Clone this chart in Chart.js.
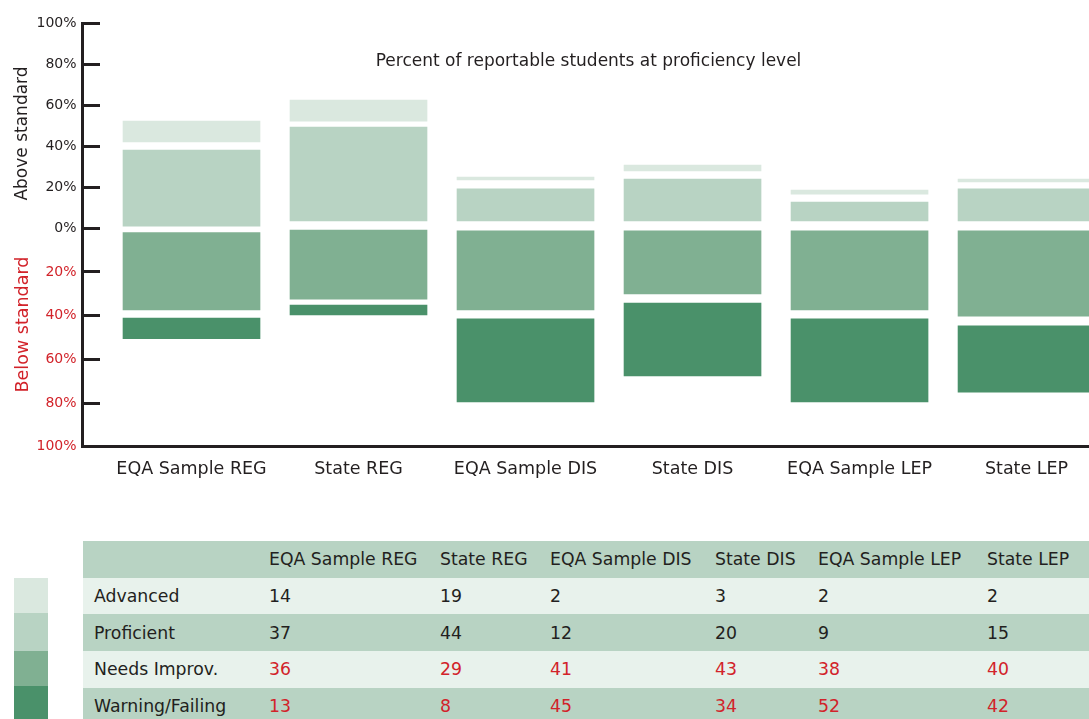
<!DOCTYPE html>
<html>
<head>
<meta charset="utf-8">
<script src="https://cdn.jsdelivr.net/npm/chart.js@4.4.1/dist/chart.umd.min.js"></script>
<style>
body{margin:0;width:1089px;height:719px;overflow:hidden;background:#fff;font-family:"DejaVu Sans",sans-serif;color:#231f20;position:relative}
#wrap{position:absolute;left:0;top:0;width:1089px;height:500px}
#tbl{position:absolute;left:83px;top:541px;border-collapse:collapse;table-layout:fixed;width:1013px;font-size:17.3px}
#tbl tr{height:36.7px}
#tbl td{padding:0 0 0 11px;vertical-align:middle;white-space:nowrap;overflow:hidden}
.sw{position:absolute;left:14px;width:34px}
</style>
</head>
<body>
<div id="wrap"><canvas id="chart"></canvas></div>
<table id="tbl">
<colgroup><col style="width:175px"><col style="width:171px"><col style="width:110px"><col style="width:165px"><col style="width:103px"><col style="width:169px"><col style="width:120px"></colgroup>
<tbody id="tb"></tbody>
</table>
<div id="legend"></div>
<script>
const categories = ["EQA Sample REG", "State REG", "EQA Sample DIS", "State DIS", "EQA Sample LEP", "State LEP"];
const levels = ["Advanced", "Proficient", "Needs Improv.", "Warning/Failing"];

// numbers from the table
const advanced = [14, 19, 2, 3, 2, 2];
const proficient = [37, 44, 12, 20, 9, 15];
const needsImprov = [36, 29, 41, 43, 38, 40];
const warning = [13, 8, 45, 34, 52, 42];

// bar extents as drawn in the graph (percent, below standard is negative)
const advancedBars = [[42.1, 52.3], [52.3, 62.6], [23.6, 25.0], [28.0, 30.9], [16.7, 18.7], [22.6, 24.0]];
const proficientBars = [[1.1, 38.2], [3.6, 49.4], [3.6, 19.2], [3.6, 24.0], [3.6, 12.8], [3.6, 19.2]];
const needsBars = [[-2.0, -37.4], [-0.8, -32.4], [-1.2, -37.4], [-1.2, -30.1], [-1.2, -37.4], [-1.2, -40.2]];
const warningBars = [[-41.1, -50.5], [-35.1, -39.7], [-41.5, -79.5], [-34.2, -67.6], [-41.5, -79.5], [-44.7, -75.0]];

const colors = ["#dae8df", "#b8d3c3", "#80b092", "#4a916a"];
const dark = "#231f20";
const red = "#d2232a";

// y axis: above and below zero are not drawn at the same scale in the original
class SplitScale extends Chart.LinearScale {
  getPixelForValue(value){
    if(value === null || isNaN(value)) return NaN;
    let zero = this.top + (this.bottom - this.top) * this.options.zeroAt;
    if(value >= 0) return zero - (zero - this.top) * value / this.max;
    return zero + (this.bottom - zero) * value / this.min;
  }
  getValueForPixel(pixel){
    let zero = this.top + (this.bottom - this.top) * this.options.zeroAt;
    if(pixel <= zero) return (zero - pixel) / (zero - this.top) * this.max;
    return (pixel - zero) / (this.bottom - zero) * this.min;
  }
}
SplitScale.id = "split";
SplitScale.defaults = Chart.LinearScale.defaults;
Chart.register(SplitScale);

function toPoints(arr){
  return arr.map((v, i) => ({x: i, y: v}));
}

const textPlugin = {
  id: "texts",
  afterDraw(chart){
    let ctx = chart.ctx;
    ctx.save();
    ctx.fillStyle = dark;
    ctx.font = "17px 'DejaVu Sans'";
    ctx.textAlign = "center";
    ctx.textBaseline = "alphabetic";
    ctx.fillText("Percent of reportable students at proficiency level", 588.5, 65.5);
    ctx.textBaseline = "middle";
    ctx.translate(23, 0);
    ctx.rotate(-Math.PI / 2);
    ctx.fillText("Above standard", -133.5, 0);
    ctx.fillStyle = red;
    ctx.font = "17.5px 'DejaVu Sans'";
    ctx.fillText("Below standard", -324.5, 0);
    ctx.restore();
  }
};

let datasets = [advancedBars, proficientBars, needsBars, warningBars].map((bars, k) => ({
  label: levels[k],
  data: toPoints(bars),
  backgroundColor: colors[k],
  borderWidth: 0,
  grouped: false,
  barThickness: 137
}));

new Chart(document.getElementById("chart"), {
  type: "bar",
  data: {datasets: datasets},
  plugins: [textPlugin],
  options: {
    responsive: true,
    maintainAspectRatio: false,
    animation: false,
    layout: {padding: {top: 23.3, right: 0, bottom: 0, left: 0}},
    plugins: {legend: {display: false}, tooltip: {enabled: false}},
    scales: {
      x: {
        type: "linear",
        offset: false,
        min: -0.6557,
        max: 5.374,
        afterBuildTicks: s => { s.ticks = categories.map((c, i) => ({value: i})); },
        afterFit: s => { s.height = 500 - 446.7; },
        grid: {display: false, drawTicks: false, offset: false},
        border: {display: true, color: dark, width: 3},
        ticks: {
          autoSkip: false,
          maxRotation: 0,
          padding: 12,
          color: dark,
          font: {family: "DejaVu Sans", size: 17.5},
          callback: v => categories[v]
        }
      },
      y: {
        type: "split",
        zeroAt: 205 / 423.4,
        min: -100,
        max: 100,
        afterFit: s => { s.width = 82; s.paddingTop = 0; s.paddingBottom = 0; },
        grid: {drawOnChartArea: false, tickLength: -18, color: dark, lineWidth: 3},
        border: {display: true, color: dark, width: 3},
        ticks: {
          stepSize: 20,
          padding: 23.5,
          font: {family: "DejaVu Sans", size: 14},
          color: c => c.tick && c.tick.value < 0 ? red : dark,
          callback: v => Math.abs(v) + "%"
        }
      }
    }
  }
});

// table under the chart
let rows = [advanced, proficient, needsImprov, warning];
let html = "<tr style='background:" + colors[1] + "'><td></td>" + categories.map(c => "<td>" + c + "</td>").join("") + "</tr>";
rows.forEach((r, k) => {
  let bg = k % 2 == 0 ? "#e8f2ec" : colors[1];
  let col = k < 2 ? dark : red;
  html += "<tr style='background:" + bg + "'><td>" + levels[k] + "</td>" +
    r.map(v => "<td style='color:" + col + "'>" + v + "</td>").join("") + "</tr>";
});
document.getElementById("tb").innerHTML = html;

let swTops = [578, 613, 650.7, 685.7, 719];
document.getElementById("legend").innerHTML = colors.map((c, k) =>
  "<div class='sw' style='top:" + swTops[k] + "px;height:" + (swTops[k + 1] - swTops[k]) + "px;background:" + c + "'></div>"
).join("");
</script>
</body>
</html>
